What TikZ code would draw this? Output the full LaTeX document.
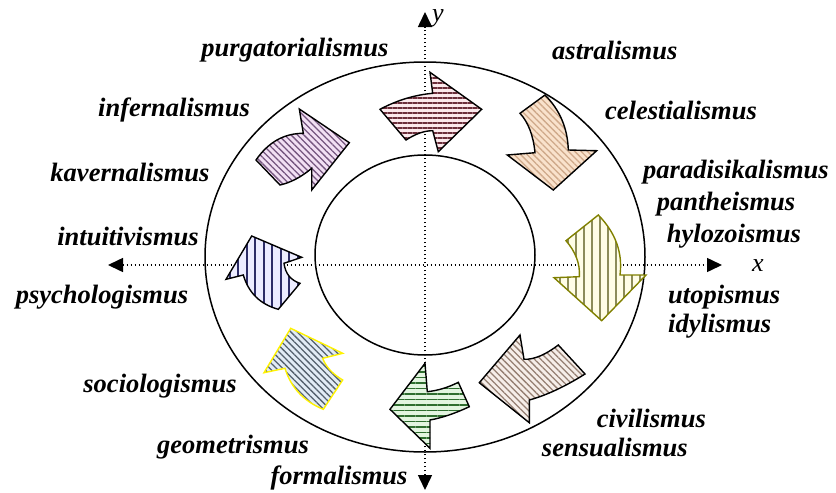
\documentclass[tikz,border=0pt]{standalone}
\usepackage{fontspec}
\setmainfont{Liberation Serif}
\usetikzlibrary{arrows.meta,patterns.meta,calc}
\definecolor{pkbg}{HTML}{FBE9EC}\definecolor{pkln}{HTML}{6B2E3A}
\definecolor{pcbg}{HTML}{F9E2CC}\definecolor{pcln}{HTML}{CFA98A}
\definecolor{libg}{HTML}{F2E0F4}\definecolor{liln}{HTML}{75567F}
\definecolor{yebg}{HTML}{FFFDE6}\definecolor{yeln}{HTML}{8C8C5A}\definecolor{yeout}{HTML}{808000}
\definecolor{lvbg}{HTML}{ECECFF}\definecolor{lvln}{HTML}{2C2C66}
\definecolor{blbg}{HTML}{E2ECF6}\definecolor{blln}{HTML}{55616E}
\definecolor{grbg}{HTML}{E3F5E0}\definecolor{grln}{HTML}{2F6E2F}
\definecolor{brbg}{HTML}{F6EEE9}\definecolor{brln}{HTML}{957F72}
\tikzset{
  lbl/.style={font=\fontsize{26.5}{32}\selectfont\bfseries\itshape, inner sep=0pt},
  axislbl/.style={font=\fontsize{26}{30}\selectfont\itshape, inner sep=0pt},
  axis/.style={line width=1.5pt, dash pattern=on 1.5pt off 2.5pt, {Triangle[length=15pt,width=14pt]}-{Triangle[length=15pt,width=14pt]}},
  ring/.style={line width=1.5pt},
  arr/.style={line width=1.4pt, line join=miter},
  diag/.style={pattern={Lines[angle=-45,distance=4.5pt,line width=1.3pt]}},
}
% quadratic-curve helper: control points for start #1, control #2, end #3
\newcommand\qc[3]{.. controls ($(#1)!0.6667!(#2)$) and ($(#3)!0.6667!(#2)$) .. (#3)}
\begin{document}
\begin{tikzpicture}[x=1pt,y=-1pt]
\useasboundingbox (0,0) rectangle (836,493);
% circles
\draw[ring] (425,257) ellipse [x radius=220, y radius=195];
\draw[ring] (425,255) ellipse [x radius=110, y radius=100];
% axes
\coordinate (xl) at (108,265); \coordinate (xr) at (722,265);
\coordinate (yt) at (425,12); \coordinate (yb) at (425,490);
\draw[axis] (xl) -- (xr);
\draw[axis] (yb) -- (yt);
\node[axislbl] (xlab) at (758,266) {x};
\node[axislbl] (ylab) at (438,18) {y};
% arrow shapes
\def\purg{(380,109.3) \qc{380,109.3}{405.6,95.7}{432.7,93.3} -- (430,72.3) -- (481.7,109.3) -- (438.3,151.7) -- (432.7,130.7) \qc{432.7,130.7}{420.6,130.6}{406,140} -- cycle}
\def\cele{(520,113.3) -- (545,95) \qc{545,95}{567.35,117.5}{568.3,150} -- (596.7,150.7) -- (553.3,190) -- (507.3,155) -- (535,152.7) \qc{535,152.7}{532.5,127}{520,113.3} -- cycle}
\def\infe{(256,160) -- (280,185) \qc{280,185}{296.15,181.35}{311.7,168.3} -- (311.7,190) -- (349.3,142.7) -- (299.3,109) -- (303.3,133.3) \qc{303.3,133.3}{274.35,133.35}{256,160} -- cycle}
\def\para{(598.3,215) -- (566,240.7) \qc{566,240.7}{580.75,257.9}{579.3,276.7} -- (554,277.7) -- (601.7,320.7) -- (646,275) -- (620,275) \qc{620,275}{624.25,241.6}{598.3,215} -- cycle}
\def\intu{(251.7,236) -- (301.7,257.3) -- (284,263.3) \qc{284,263.3}{286,278.7}{300,283.3} -- (278.3,309.3) \qc{278.3,309.3}{251.2,301.85}{243.3,275} -- (226,279.3) -- cycle}
\def\soci{(290.7,328.3) -- (342.7,353.3) -- (322.7,358.3) \qc{322.7,358.3}{327.3,370.85}{342.7,380} -- (323.3,409.3) \qc{323.3,409.3}{293.85,397.2}{285,368.3} -- (264,372.7) -- cycle}
\def\geom{(425,363.3) -- (427.3,391.7) \qc{427.3,391.7}{443.2,390}{458.3,382.3} -- (469.3,406.7) \qc{469.3,406.7}{448.35,416.65}{430,420} -- (430,448.3) -- (390,409.3) -- cycle}
\def\civi{(520,335) -- (524,359.3) \qc{524,359.3}{538.85,359.85}{558.3,345} -- (585,374) \qc{585,374}{554.85,393}{529.3,400} -- (529.3,422.7) -- (479.3,382.7) -- cycle}
% purgatorialismus
\fill[pkbg] \purg;
\path[pattern={Lines[angle=0,distance=5pt,line width=1.6pt]},pattern color=pkln] \purg;
\draw[arr] \purg;
% celestialismus
\fill[pcbg] \cele;
\path[diag,pattern color=pcln] \cele;
\draw[arr] \cele;
% infernalismus
\fill[libg] \infe;
\path[diag,pattern color=liln] \infe;
\draw[arr] \infe;
% paradisikalismus
\fill[yebg] \para;
\path[pattern={Lines[angle=90,distance=8pt,line width=2pt]},pattern color=yeln] \para;
\draw[arr,yeout] \para;
% intuitivismus
\fill[lvbg] \intu;
\path[pattern={Lines[angle=90,distance=8.5pt,line width=2pt]},pattern color=lvln] \intu;
\draw[arr] \intu;
% sociologismus
\fill[blbg] \soci;
\path[diag,pattern color=blln] \soci;
\draw[arr,yellow] \soci;
% geometrismus / formalismus
\fill[grbg] \geom;
\path[pattern={Lines[angle=0,distance=5.5pt,line width=1.6pt]},pattern color=grln] \geom;
\draw[arr] \geom;
% civilismus
\fill[brbg] \civi;
\path[diag,pattern color=brln] \civi;
\draw[arr] \civi;
% labels
\node[lbl] (purgl) at (295,50) {purgatorialismus};
\node[lbl,anchor=west] (astrl) at (552,50) {astralismus};
\node[lbl] (infel) at (174,110) {infernalismus};
\node[lbl,anchor=west] (celel) at (605,110) {celestialismus};
\node[lbl] (kavel) at (130,172) {kavernalismus};
\node[lbl] (paral) at (736,172) {paradisikalismus};
\node[lbl] (pantl) at (726,204) {pantheismus};
\node[lbl] (hylol) at (734,236) {hylozoismus};
\node[lbl] (intul) at (128,236) {intuitivismus};
\node[lbl] (psycl) at (102,297) {psychologismus};
\node[lbl,anchor=west] (utopl) at (668,297) {utopismus};
\node[lbl,anchor=west] (idyll) at (668,326) {idylismus};
\node[lbl] (socil) at (160,386) {sociologismus};
\node[lbl,anchor=east] (civil) at (706,418) {civilismus};
\node[lbl,anchor=east] (sensl) at (688,447) {sensualismus};
\node[lbl] (geoml) at (233,447) {geometrismus};
\node[lbl] (forml) at (339,478) {formalismus};
\end{tikzpicture}
\end{document}
